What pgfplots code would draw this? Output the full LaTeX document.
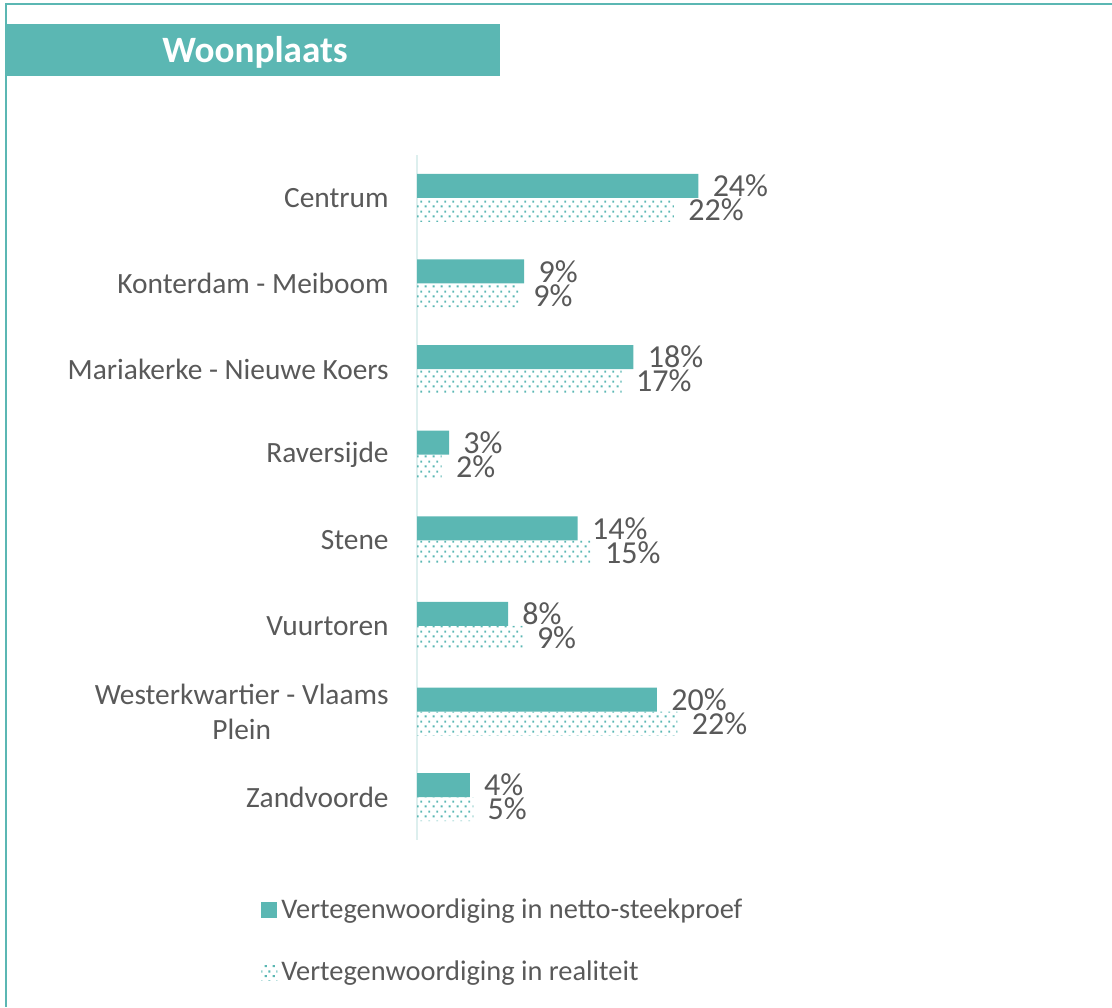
\documentclass[border=0pt]{standalone}
\usepackage{fontspec}
\setmainfont{Carlito}
\usepackage{pgfplots}
\pgfplotsset{compat=1.18}
\usetikzlibrary{patterns}

\definecolor{teal1}{HTML}{5BB7B3}
\definecolor{txt}{HTML}{595959}
\definecolor{axl}{HTML}{DDEFEE}

% small teal dots, rows offset
\pgfdeclarepatternformonly{tealdots}{\pgfqpoint{0pt}{0pt}}{\pgfqpoint{4pt}{5pt}}{\pgfqpoint{4pt}{5pt}}{%
  \pgfpathrectangle{\pgfqpoint{0.4pt}{0.4pt}}{\pgfqpoint{1.1pt}{1.1pt}}%
  \pgfpathrectangle{\pgfqpoint{2.4pt}{2.9pt}}{\pgfqpoint{1.1pt}{1.1pt}}%
  \pgfusepath{fill}}

\begin{document}
\begin{tikzpicture}
\path[use as bounding box] (0,0) rectangle (556pt,503.5pt);
% frame
\fill[teal1] (2.5pt,0) rectangle (3.5pt,502.2pt);
\fill[teal1] (2.5pt,501pt) rectangle (556pt,502.2pt);
% title banner
\fill[teal1] (3.5pt,465.5pt) rectangle (250pt,491.5pt);
\node[white,font=\bfseries\fontsize{18.6}{22}\selectfont] at (127.5pt,477.5pt) {Woonplaats};

\begin{axis}[
  at={(208.5pt,83.5pt)}, anchor=south west,
  scale only axis, width=176pt, height=342.5pt,
  xbar, bar width=12pt,
  xmin=0, xmax=30, ymin=-0.5, ymax=7.5,
  y dir=reverse,
  axis x line=none, axis y line=left,
  y axis line style={axl, line width=0.8pt, -},
  ytick={0,...,7},
  yticklabels={Centrum, Konterdam - Meiboom, Mariakerke - Nieuwe Koers, Raversijde, Stene, Vuurtoren, {Westerkwartier - Vlaams\\Plein}, Zandvoorde},
  major tick length=0pt,
  yticklabel style={font=\fontsize{14.7}{17.5}\selectfont, text=txt, align=center, inner sep=0pt, xshift=-14pt},
  point meta=explicit symbolic,
  nodes near coords={\pgfplotspointmeta\%},
  nodes near coords style={font=\fontsize{16}{18}\selectfont, text=txt, anchor=west, inner sep=0pt, xshift=7pt},
  clip=false,
  legend image code/.code={\path[#1] (0pt,-4pt) rectangle (8pt,4pt);},
  legend style={at={(-0.46,-0.073)}, anchor=north west, draw=none, fill=none,
    font=\fontsize{14.2}{17}\selectfont, text=txt, row sep=16pt,
    nodes={inner sep=2pt}},
  legend cell align=left,
]
\addplot[fill=teal1, draw=none, bar shift=6pt] coordinates {
  (23.98,0) [24] (9.13,1) [9] (18.45,2) [18] (2.73,3) [3]
  (13.7,4) [14] (7.76,5) [8] (20.45,6) [20] (4.5,7) [4]
};
\addplot[pattern=tealdots, pattern color=teal1, draw=none, bar shift=-6pt] coordinates {
  (21.9,0) [22] (8.7,1) [9] (17.45,2) [17] (2.1,3) [2]
  (14.8,4) [15] (9.0,5) [9] (22.2,6) [22] (4.8,7) [5]
};
\legend{Vertegenwoordiging in netto-steekproef, Vertegenwoordiging in realiteit}
\end{axis}
\end{tikzpicture}
\end{document}
